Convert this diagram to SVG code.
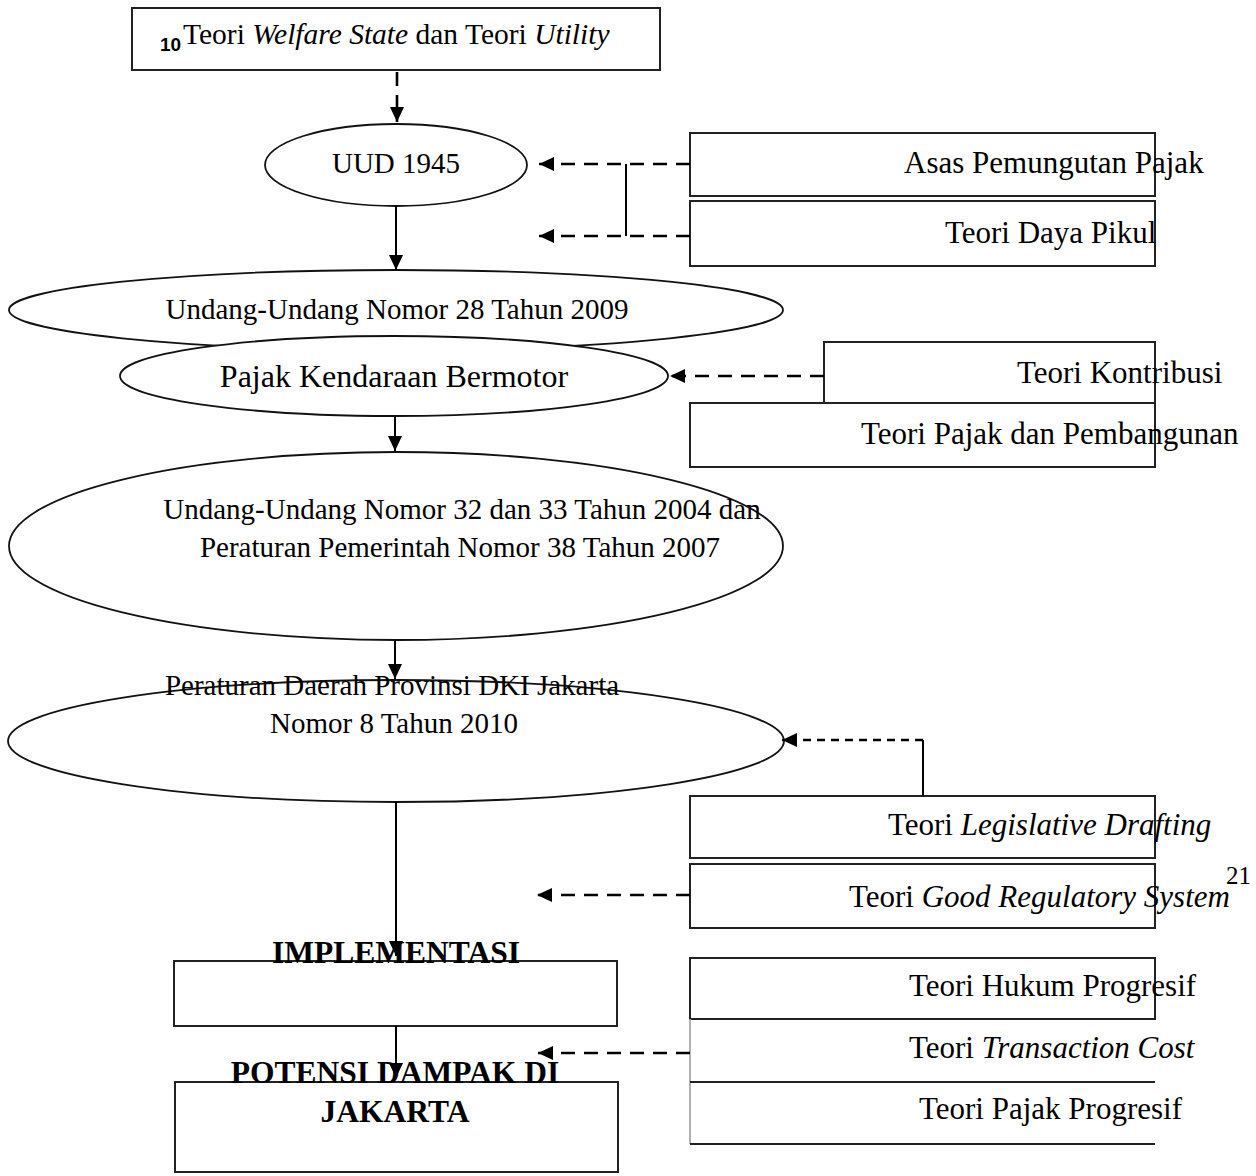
<svg xmlns="http://www.w3.org/2000/svg" width="1256" height="1176" viewBox="0 0 1256 1176">
<defs>
<marker id="ah" markerUnits="userSpaceOnUse" markerWidth="15" markerHeight="14" refX="15" refY="7" orient="auto">
<path d="M0,0 L15,7 L0,14 z" fill="#000"/>
</marker>
<style>
.t{font-family:"Liberation Serif","Times New Roman",serif;fill:#000}
.b{font-weight:bold}
.i{font-style:italic}
.box{fill:none;stroke:#222;stroke-width:2}
.ell{fill:#fff;stroke:#111;stroke-width:1.8}
.con{fill:none;stroke:#000;stroke-width:2}
.dash{fill:none;stroke:#000;stroke-width:2.6;stroke-dasharray:14 9}
.dash2{fill:none;stroke:#000;stroke-width:2.6;stroke-dasharray:8 6}
</style>
</defs>
<rect width="1256" height="1176" fill="#fff"/>

<g id="welfare">
<rect class="box" x="132" y="8" width="528" height="62"/>
<text x="160" y="51" font-family="'Liberation Sans',Arial,sans-serif" font-weight="bold" font-size="19">10</text>
<text class="t" x="183" y="44" font-size="29.5">Teori <tspan class="i">Welfare State</tspan> dan Teori <tspan class="i">Utility</tspan></text>
</g>

<g id="uud">
<ellipse class="ell" cx="396" cy="165" rx="131" ry="41"/>
<text class="t" x="396" y="173" font-size="29" text-anchor="middle">UUD 1945</text>
</g>

<g id="uu28">
<ellipse class="ell" cx="396" cy="310" rx="387" ry="40"/>
<text class="t" x="397" y="319" font-size="29" text-anchor="middle">Undang-Undang Nomor 28 Tahun 2009</text>
</g>

<g id="pkb">
<ellipse class="ell" cx="394" cy="376" rx="274" ry="40"/>
<text class="t" x="394" y="387" font-size="32" text-anchor="middle">Pajak Kendaraan Bermotor</text>
</g>

<g id="uu32">
<ellipse class="ell" cx="396" cy="546" rx="387" ry="94"/>
<text class="t" x="462" y="519" font-size="29" text-anchor="middle">Undang-Undang Nomor 32 dan 33 Tahun 2004 dan</text>
<text class="t" x="460" y="557" font-size="29" text-anchor="middle">Peraturan Pemerintah Nomor 38 Tahun 2007</text>
</g>

<g id="perda">
<ellipse class="ell" cx="396" cy="741" rx="388" ry="61"/>
<text class="t" x="392" y="695" font-size="29" text-anchor="middle">Peraturan Daerah Provinsi DKI Jakarta</text>
<text class="t" x="394" y="733" font-size="29" text-anchor="middle">Nomor 8 Tahun 2010</text>
</g>

<g id="implementasi">
<rect class="box" x="174" y="961" width="443" height="65"/>
<text class="t b" x="396" y="963" font-size="31.5" text-anchor="middle">IMPLEMENTASI</text>
</g>

<g id="potensi">
<rect class="box" x="175" y="1082" width="443" height="90"/>
<text class="t b" x="395" y="1083" font-size="31.5" text-anchor="middle">POTENSI DAMPAK DI</text>
<text class="t b" x="395" y="1122" font-size="31.5" text-anchor="middle">JAKARTA</text>
</g>

<g id="asas">
<rect class="box" x="690" y="133" width="465" height="63"/>
<text class="t" x="904" y="173" font-size="31">Asas Pemungutan Pajak</text>
</g>
<g id="dayapikul">
<rect class="box" x="690" y="201" width="465" height="65"/>
<text class="t" x="945" y="243" font-size="31">Teori Daya Pikul</text>
</g>

<g id="kontribusi">
<path class="box" d="M824,403 V342 H1155 V403"/>
<text class="t" x="1017" y="383" font-size="31">Teori Kontribusi</text>
</g>
<g id="pembangunan">
<rect class="box" x="690" y="403" width="465" height="64"/>
<text class="t" x="861" y="444" font-size="31">Teori Pajak dan Pembangunan</text>
</g>

<g id="legislative">
<rect class="box" x="690" y="796" width="465" height="62"/>
<text class="t" x="888" y="835" font-size="31">Teori <tspan class="i">Legislative Drafting</tspan></text>
</g>
<g id="goodreg">
<rect class="box" x="690" y="864" width="465" height="64"/>
<text class="t" x="849" y="907" font-size="31">Teori <tspan class="i">Good Regulatory System</tspan></text>
<text class="t" x="1226" y="884" font-size="25">21</text>
</g>

<g id="hukumprogresif">
<rect class="box" x="690" y="958" width="465" height="61"/>
<text class="t" x="909" y="996" font-size="31">Teori Hukum Progresif</text>
</g>
<g id="transaction">
<path d="M690,1019 V1144" fill="none" stroke="#aaa" stroke-width="1.8"/>
<path class="box" d="M690,1082 H1155"/>
<text class="t" x="909" y="1058" font-size="31">Teori <tspan class="i">Transaction Cost</tspan></text>
</g>
<g id="pajakprogresif">
<path class="box" d="M690,1144 H1155"/>
<text class="t" x="919" y="1119" font-size="31">Teori Pajak Progresif</text>
</g>

<g id="connectors">
<path class="dash" d="M397,72 V122" marker-end="url(#ah)"/>
<path class="con" d="M396,206 V270" marker-end="url(#ah)"/>
<path class="con" d="M395,417 V451" marker-end="url(#ah)"/>
<path class="con" d="M395,640 V679" marker-end="url(#ah)"/>
<path class="con" d="M396,802 V956" marker-end="url(#ah)"/>
<path class="con" d="M396,1026 V1078" marker-end="url(#ah)"/>
<path class="dash" d="M690,164 H539" marker-end="url(#ah)"/>
<path class="dash" d="M690,236 H539" marker-end="url(#ah)"/>
<path class="con" d="M626,164 V236" stroke-width="1.6"/>
<path class="dash" d="M824,376 H670" marker-end="url(#ah)"/>
<path class="con" d="M923,796 V740"/>
<path class="dash2" d="M923,740 H782" marker-end="url(#ah)"/>
<path class="dash" d="M690,895 H537" marker-end="url(#ah)"/>
<path class="dash" d="M690,1053 H538" marker-end="url(#ah)"/>
</g>
</svg>
